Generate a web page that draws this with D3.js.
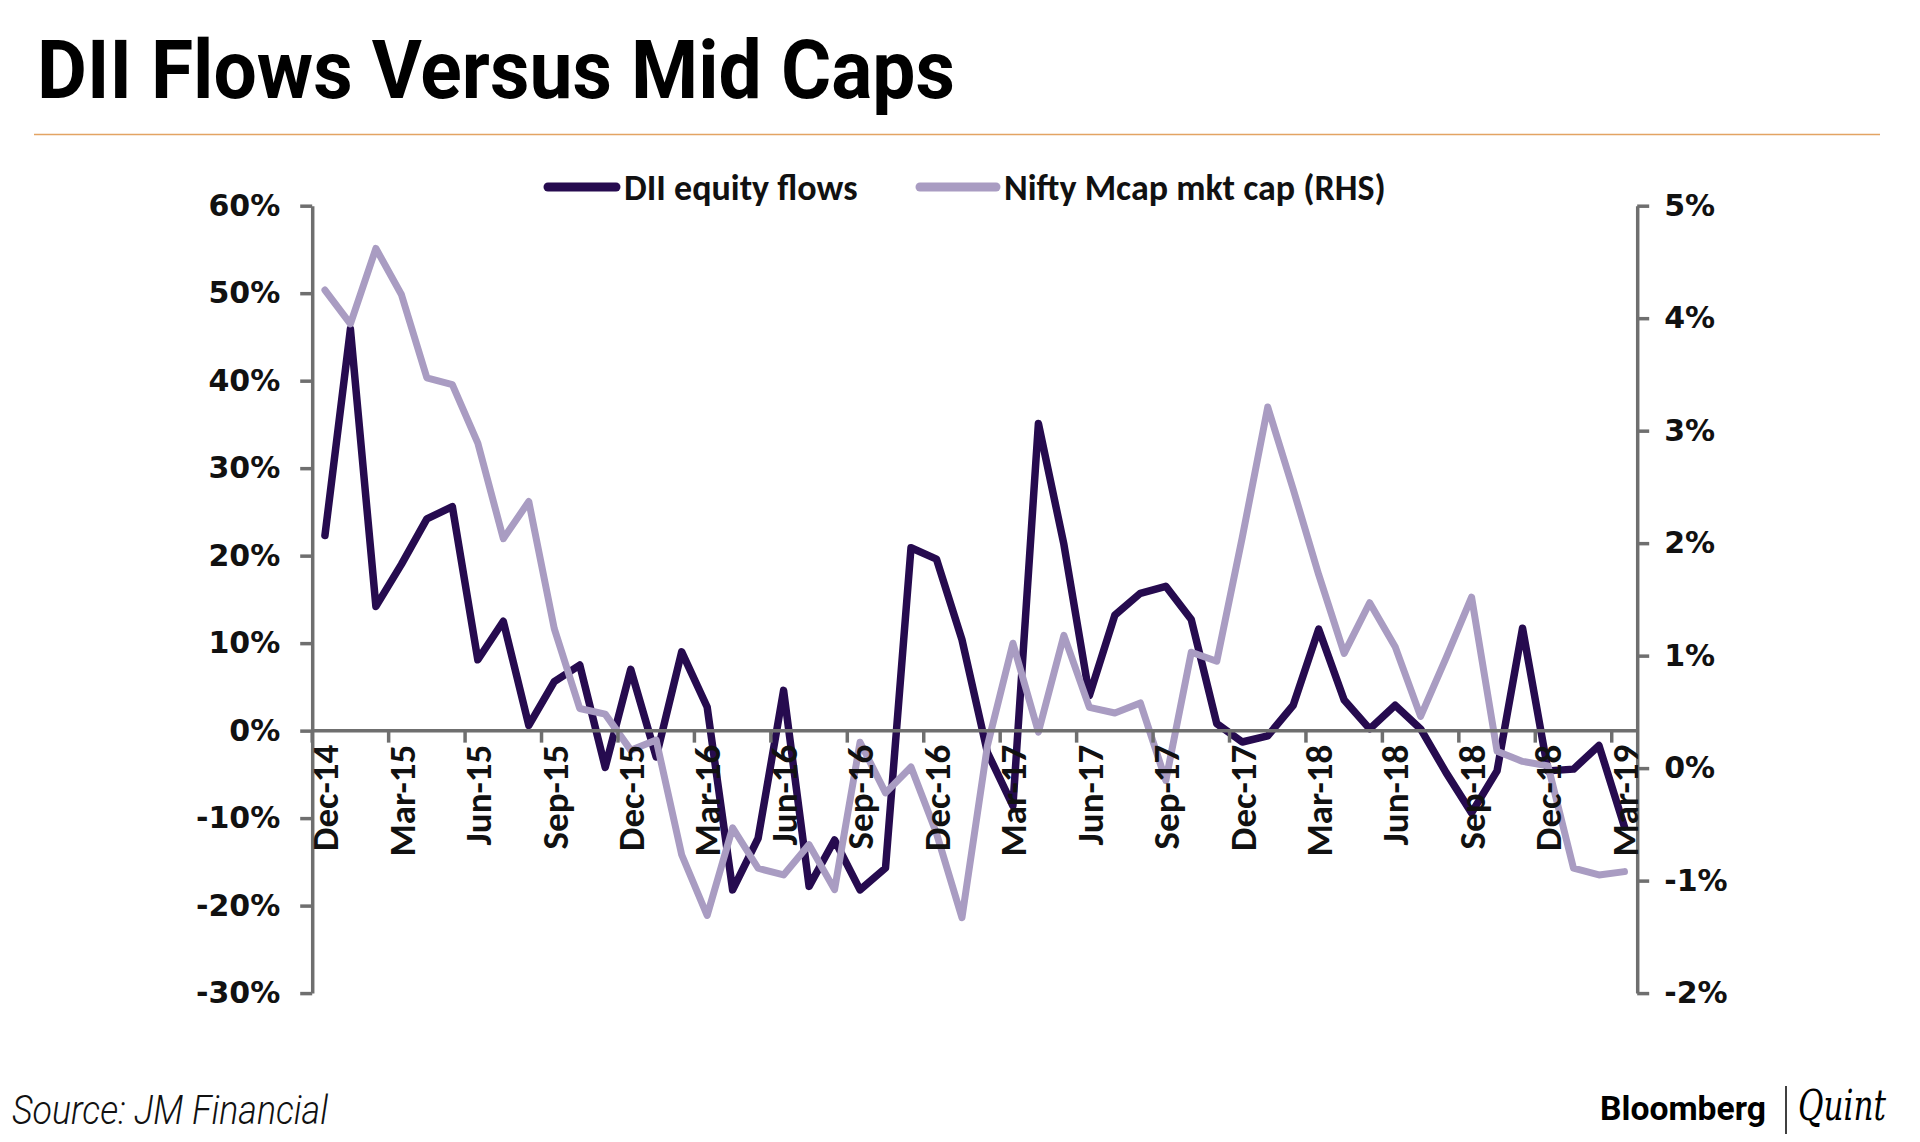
<!DOCTYPE html>
<html>
<head>
<meta charset="utf-8">
<script src="https://cdn.jsdelivr.net/npm/d3@7/dist/d3.min.js"></script>
<style>
  html, body { margin: 0; padding: 0; background: #ffffff; }
  svg { display: block; }
</style>
</head>
<body>
<div id="chart"></div>
<script>
// ---- data ----
const months = ["Dec-14","Jan-15","Feb-15","Mar-15","Apr-15","May-15","Jun-15","Jul-15","Aug-15","Sep-15","Oct-15","Nov-15",
  "Dec-15","Jan-16","Feb-16","Mar-16","Apr-16","May-16","Jun-16","Jul-16","Aug-16","Sep-16","Oct-16","Nov-16",
  "Dec-16","Jan-17","Feb-17","Mar-17","Apr-17","May-17","Jun-17","Jul-17","Aug-17","Sep-17","Oct-17","Nov-17",
  "Dec-17","Jan-18","Feb-18","Mar-18","Apr-18","May-18","Jun-18","Jul-18","Aug-18","Sep-18","Oct-18","Nov-18",
  "Dec-18","Jan-19","Feb-19","Mar-19"];

const diiFlows = [22.3, 45.9, 14.2, 19.0, 24.2, 25.6, 8.1, 12.5, 0.6, 5.6, 7.5, -4.2,
  7.0, -3.0, 9.0, 2.7, -18.2, -12.3, 4.6, -17.8, -12.5, -18.2, -15.7, 20.9,
  19.6, 10.4, -2.5, -8.6, 35.1, 21.3, 4.0, 13.2, 15.7, 16.5, 12.7, 0.8,
  -1.3, -0.6, 2.9, 11.6, 3.5, 0.2, 2.9, 0.2, -4.8, -9.4, -4.6, 11.7,
  -4.6, -4.4, -1.7, -11.0];

const niftyMcap = [4.25, 3.95, 4.62, 4.21, 3.47, 3.41, 2.89, 2.04, 2.37, 1.24, 0.53, 0.48,
  0.16, 0.25, -0.77, -1.31, -0.53, -0.89, -0.95, -0.68, -1.08, 0.23, -0.22, 0.01,
  -0.58, -1.33, 0.20, 1.11, 0.32, 1.18, 0.54, 0.49, 0.58, -0.11, 1.03, 0.95,
  2.05, 3.21, 2.48, 1.72, 1.02, 1.47, 1.08, 0.46, 0.98, 1.52, 0.15, 0.06,
  0.02, -0.89, -0.95, -0.92];

const leftTicks = [-30, -20, -10, 0, 10, 20, 30, 40, 50, 60];
const rightTicks = [-2, -1, 0, 1, 2, 3, 4, 5];
const xLabelEvery = 3;
const seriesNames = ["DII equity flows", "Nifty Mcap mkt cap (RHS)"];

// ---- layout ----
const W = 1920, H = 1142;
const plotL = 312.2, plotR = 1637.2, plotT = 205.7, plotB = 993.1;
const darkC = "#260b4f", lightC = "#a99cc2", axisC = "#6f6f6f";

const svg = d3.select("#chart").append("svg").attr("width", W).attr("height", H);

// title
svg.append("text")
  .attr("x", 37).attr("y", 98)
  .attr("font-family", "Roboto, 'Noto Sans', sans-serif")
  .attr("font-weight", 700).attr("font-size", 82)
  .attr("textLength", 918).attr("lengthAdjust", "spacingAndGlyphs")
  .attr("fill", "#000")
  .text("DII Flows Versus Mid Caps");

svg.append("line")
  .attr("x1", 34).attr("x2", 1880).attr("y1", 134.5).attr("y2", 134.5)
  .attr("stroke", "#e3a463").attr("stroke-width", 1.6);

// scales
const x = d3.scalePoint().domain(months).range([plotL, plotR]).padding(0.5);
const step = x.step();
const yL = d3.scaleLinear().domain([-30, 60]).range([plotB, plotT]);
const yR = d3.scaleLinear().domain([-2, 5]).range([plotB, plotT]);

// left axis
const gL = svg.append("g").attr("transform", `translate(${plotL},0)`)
  .call(d3.axisLeft(yL).tickValues(leftTicks).tickFormat(d => d + "%")
    .tickSize(12).tickSizeOuter(0).tickPadding(20));
// right axis
const gR = svg.append("g").attr("transform", `translate(${plotR},0)`)
  .call(d3.axisRight(yR).tickValues(rightTicks).tickFormat(d => d + "%")
    .tickSize(12).tickSizeOuter(0).tickPadding(15));

[gL, gR].forEach(g => {
  g.select(".domain").attr("stroke", axisC).attr("stroke-width", 3.5);
  g.selectAll(".tick line").attr("stroke", axisC).attr("stroke-width", 3.5);
  g.selectAll(".tick text")
    .attr("font-family", "'DejaVu Sans', Verdana, sans-serif")
    .attr("font-weight", 700).attr("font-size", 30).attr("fill", "#111");
});

// category (x) axis at 0% of left scale
const y0 = yL(0);
const gX = svg.append("g");
gX.append("line")
  .attr("x1", plotL).attr("x2", plotR).attr("y1", y0).attr("y2", y0)
  .attr("stroke", axisC).attr("stroke-width", 3.5);
const tickMonths = months.filter((m, i) => i % xLabelEvery === 0);
gX.selectAll("line.xt").data(tickMonths).enter().append("line")
  .attr("class", "xt")
  .attr("x1", d => x(d) - step / 2).attr("x2", d => x(d) - step / 2)
  .attr("y1", y0).attr("y2", y0 + 12)
  .attr("stroke", axisC).attr("stroke-width", 3.5);

// lines
const lineL = d3.line().x((d, i) => x(months[i])).y(d => yL(d));
const lineR = d3.line().x((d, i) => x(months[i])).y(d => yR(d));

svg.append("path").datum(diiFlows)
  .attr("d", lineL).attr("fill", "none")
  .attr("stroke", darkC).attr("stroke-width", 7.5)
  .attr("stroke-linejoin", "round").attr("stroke-linecap", "round");

svg.append("path").datum(niftyMcap)
  .attr("d", lineR).attr("fill", "none")
  .attr("stroke", lightC).attr("stroke-width", 7)
  .attr("stroke-linejoin", "round").attr("stroke-linecap", "round");

// x labels on top
gX.raise();
svg.append("g").selectAll("text").data(tickMonths).enter().append("text")
  .attr("transform", d => `translate(${x(d)},${y0 + 14}) rotate(-90)`)
  .attr("text-anchor", "end").attr("dy", "0.36em")
  .attr("font-family", "Carlito, Lato, 'Open Sans', sans-serif")
  .attr("font-weight", 700).attr("font-size", 37).attr("fill", "#111")
  .text(d => d);

// legend
const lg = svg.append("g");
const legendItems = [
  { name: seriesNames[0], color: darkC, x1: 548, x2: 616, tx: 624 },
  { name: seriesNames[1], color: lightC, x1: 920, x2: 996, tx: 1004 }
];
legendItems.forEach(it => {
  lg.append("line").attr("x1", it.x1).attr("x2", it.x2).attr("y1", 187).attr("y2", 187)
    .attr("stroke", it.color).attr("stroke-width", 9).attr("stroke-linecap", "round");
  lg.append("text").attr("x", it.tx).attr("y", 187).attr("dy", "0.35em")
    .attr("font-family", "Carlito, Lato, 'Open Sans', sans-serif")
    .attr("font-weight", 700).attr("font-size", 36).attr("fill", "#111")
    .text(it.name);
});

// footer
svg.append("text")
  .attr("x", 12).attr("y", 1124)
  .attr("font-family", "Roboto, sans-serif").attr("font-style", "italic")
  .attr("font-weight", 300).attr("font-size", 40)
  .attr("textLength", 316).attr("lengthAdjust", "spacingAndGlyphs")
  .attr("fill", "#111")
  .text("Source: JM Financial");

svg.append("text")
  .attr("x", 1600).attr("y", 1120)
  .attr("font-family", "Roboto, sans-serif")
  .attr("font-weight", 700).attr("font-size", 34)
  .attr("textLength", 166).attr("lengthAdjust", "spacingAndGlyphs")
  .attr("fill", "#000")
  .text("Bloomberg");
svg.append("line")
  .attr("x1", 1786).attr("x2", 1786).attr("y1", 1086).attr("y2", 1134)
  .attr("stroke", "#000").attr("stroke-width", 1.5);
svg.append("text")
  .attr("x", 1798).attr("y", 1120)
  .attr("font-family", "'DejaVu Serif', 'Liberation Serif', serif").attr("font-style", "italic")
  .attr("font-weight", 400).attr("font-size", 42)
  .attr("textLength", 88).attr("lengthAdjust", "spacingAndGlyphs")
  .attr("fill", "#000")
  .text("Quint");
</script>
</body>
</html>
